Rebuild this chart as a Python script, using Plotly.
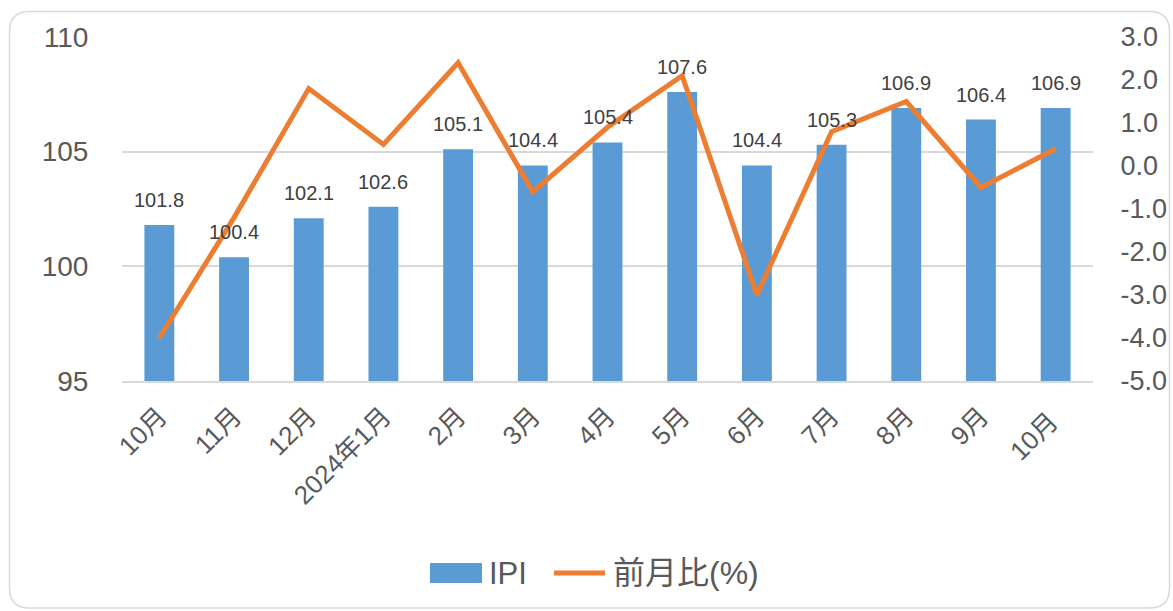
import plotly.graph_objects as go

categories = ["10月", "11月", "12月", "2024年1月", "2月", "3月", "4月", "5月", "6月", "7月", "8月", "9月", "10月 "]
ipi = [101.8, 100.4, 102.1, 102.6, 105.1, 104.4, 105.4, 107.6, 104.4, 105.3, 106.9, 106.4, 106.9]
mom = [-4.0, -1.2, 1.8, 0.5, 2.4, -0.6, 0.9, 2.1, -3.0, 0.8, 1.5, -0.5, 0.4]
left_ticks = [95, 100, 105, 110]
right_ticks = [-5.0, -4.0, -3.0, -2.0, -1.0, 0.0, 1.0, 2.0, 3.0]
legend_names = ["IPI", "前月比(%)"]

BLUE = "#5B9BD5"
ORANGE = "#ED7D31"
GRID = "#D9D9D9"
TXT = "#595959"
FONT = "Liberation Sans, Noto Sans CJK JP, sans-serif"

W, H = 1173, 611
L, R, T, B = 122, 80, 37, 230
PW, PH = W - L - R, H - T - B


def px(x):
    return (x - L) / PW


def py(y):
    return (H - B - y) / PH


fig = go.Figure()
fig.add_trace(go.Bar(
    x=categories, y=ipi, name=legend_names[0], marker_color=BLUE,
    marker_line_width=0, yaxis="y", showlegend=False,
))
fig.add_trace(go.Scatter(
    x=categories, y=mom, name=legend_names[1], mode="lines",
    line=dict(color=ORANGE, width=5), yaxis="y2", showlegend=False,
))

annotations = []
for c, v in zip(categories, ipi):
    annotations.append(dict(
        x=c, y=v, xref="x", yref="y", text=f"{v:.1f}", showarrow=False,
        yanchor="bottom", yshift=12, font=dict(size=20, color="#404040", family=FONT),
    ))

# manual legend
shapes = []
shapes.append(dict(type="rect", xref="paper", yref="paper",
                   x0=px(430), x1=px(482), y0=py(583), y1=py(563),
                   fillcolor=BLUE, line=dict(width=0)))
shapes.append(dict(type="line", xref="paper", yref="paper",
                   x0=px(554), x1=px(605), y0=py(573), y1=py(573),
                   line=dict(color=ORANGE, width=5)))
annotations.append(dict(x=px(487), y=py(573), xref="paper", yref="paper",
                        text=legend_names[0], showarrow=False, xanchor="left",
                        yanchor="middle", font=dict(size=31, color=TXT, family=FONT)))
annotations.append(dict(x=px(611), y=py(573), xref="paper", yref="paper",
                        text=legend_names[1], showarrow=False, xanchor="left",
                        yanchor="middle", font=dict(size=32, color=TXT, family=FONT)))

# rounded border
bx0, bx1, by0, by1 = 9.5, 1169.5, 11.5, 608
r = 20
path = (
    f"M {px(bx0 + r)},{py(by0)} L {px(bx1 - r)},{py(by0)} "
    f"Q {px(bx1)},{py(by0)} {px(bx1)},{py(by0 + r)} "
    f"L {px(bx1)},{py(by1 - r)} Q {px(bx1)},{py(by1)} {px(bx1 - r)},{py(by1)} "
    f"L {px(bx0 + r)},{py(by1)} Q {px(bx0)},{py(by1)} {px(bx0)},{py(by1 - r)} "
    f"L {px(bx0)},{py(by0 + r)} Q {px(bx0)},{py(by0)} {px(bx0 + r)},{py(by0)} Z"
)
shapes.append(dict(type="path", xref="paper", yref="paper", path=path,
                   line=dict(color=GRID, width=1.5), layer="below"))

fig.update_layout(
    width=W, height=H, autosize=False,
    margin=dict(l=L, r=R, t=T, b=B, pad=0, autoexpand=False),
    paper_bgcolor="white", plot_bgcolor="white",
    bargap=0.6,
    font=dict(family=FONT, color=TXT),
    xaxis=dict(
        type="category", tickangle=-45, tickfont=dict(size=26, color=TXT, family=FONT),
        showgrid=False, showline=True, linecolor=GRID, linewidth=1.5, automargin=False,
        ticks="outside", ticklen=8, tickcolor="rgba(0,0,0,0)",
    ),
    yaxis=dict(
        range=[95, 110], tickvals=left_ticks, ticktext=[str(t) for t in left_ticks],
        showgrid=True, gridcolor=GRID, gridwidth=1.5, zeroline=False, automargin=False,
        tickfont=dict(size=28, color=TXT, family=FONT),
        ticks="outside", ticklen=27, tickcolor="rgba(0,0,0,0)",
    ),
    yaxis2=dict(
        range=[-5, 3], overlaying="y", side="right", tickvals=right_ticks,
        ticktext=[f"{t:.1f}" for t in right_ticks], showgrid=False, zeroline=False,
        automargin=False,
        tickfont=dict(size=27, color=TXT, family=FONT),
        ticks="outside", ticklen=21, tickcolor="rgba(0,0,0,0)",
    ),
    shapes=shapes, annotations=annotations,
)

fig.write_html(
    "out.html",
    config={"displayModeBar": False},
    post_script="document.body.style.margin='0';document.body.style.overflow='hidden';",
)
